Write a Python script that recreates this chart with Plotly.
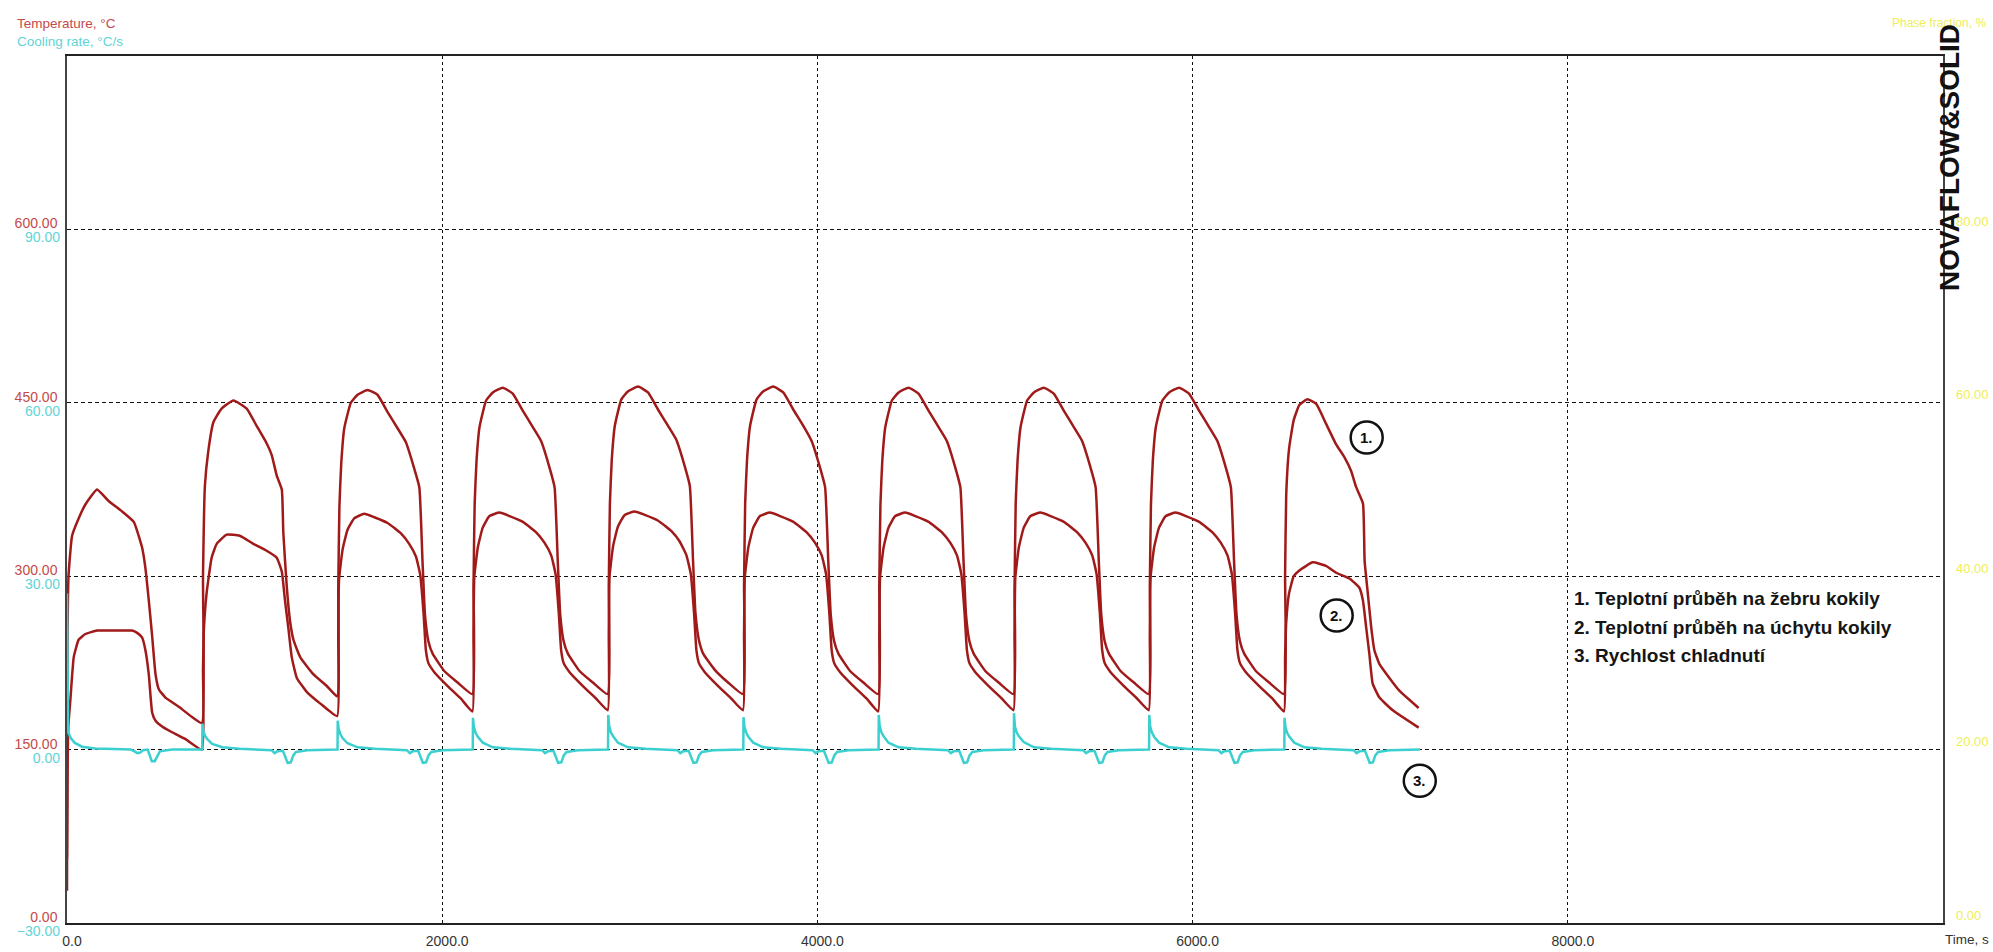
import plotly.graph_objects as go

# ---------------- data ----------------
# Curve 1: temperature on the mould rib (deg C)
rib_time = [0, 3, 8, 27, 62, 98, 160, 222, 294, 356, 400, 418, 436, 454, 472, 490, 525, 596, 668, 719,
            725, 735, 753, 780, 824, 887, 958, 1011, 1064, 1091, 1118, 1145, 1153, 1171, 1189, 1207, 1243, 1314, 1385, 1440,
            1446, 1452, 1462, 1478, 1513, 1549, 1602, 1655, 1709, 1762, 1806, 1851, 1878, 1895, 1908, 1926, 1949, 2011, 2082, 2161,
            2167, 2173, 2183, 2199, 2234, 2270, 2323, 2376, 2430, 2483, 2527, 2572, 2599, 2616, 2629, 2647, 2670, 2732, 2803, 2882,
            2888, 2894, 2904, 2920, 2955, 2991, 3044, 3097, 3151, 3204, 3248, 3293, 3320, 3337, 3350, 3368, 3391, 3453, 3524, 3603,
            3609, 3615, 3625, 3641, 3676, 3712, 3765, 3818, 3872, 3925, 3969, 4014, 4041, 4058, 4071, 4089, 4112, 4174, 4245, 4324,
            4330, 4336, 4346, 4362, 4397, 4433, 4486, 4539, 4593, 4646, 4690, 4735, 4762, 4779, 4792, 4810, 4833, 4895, 4966, 5045,
            5051, 5057, 5067, 5083, 5118, 5154, 5207, 5260, 5314, 5367, 5411, 5456, 5483, 5500, 5513, 5531, 5554, 5616, 5687, 5766,
            5772, 5778, 5788, 5804, 5839, 5875, 5928, 5981, 6035, 6088, 6132, 6177, 6204, 6221, 6234, 6252, 6275, 6337, 6408, 6487,
            6493, 6499, 6514, 6539, 6569, 6612, 6659, 6711, 6765, 6809, 6845, 6872, 6908, 6917, 6934, 6952, 6969, 6996, 7049, 7102, 7205]
rib_temp = [28, 250, 300, 335, 350, 362, 375, 365, 356, 347, 325, 307, 279, 248, 215, 202, 195, 187, 178, 173,
            300, 378, 408, 433, 445, 452, 445, 430, 415, 405, 387, 375, 338, 292, 261, 245, 230, 215, 205, 196,
            290, 360, 398, 428, 450, 457, 461, 457, 442, 428, 416, 393, 377, 313, 267, 244, 233, 218, 208, 198,
            292, 362, 400, 429, 452, 459, 463, 458, 443, 429, 417, 394, 377, 313, 267, 244, 233, 218, 208, 198,
            293, 363, 401, 430, 453, 460, 464, 459, 444, 430, 418, 395, 378, 314, 268, 245, 233, 219, 208, 198,
            292, 363, 401, 430, 453, 460, 464, 459, 444, 430, 417, 394, 377, 313, 267, 244, 233, 218, 208, 198,
            292, 362, 400, 429, 452, 459, 463, 458, 443, 429, 417, 394, 377, 313, 267, 244, 233, 218, 208, 198,
            290, 363, 400, 429, 452, 459, 463, 458, 443, 429, 417, 394, 377, 313, 267, 244, 233, 218, 208, 198,
            292, 362, 400, 429, 452, 459, 463, 458, 443, 429, 417, 394, 377, 313, 267, 244, 233, 218, 208, 198,
            300, 370, 410, 435, 448, 453, 449, 432, 414, 403, 391, 377, 363, 313, 285, 256, 236, 224, 212, 201, 186]

# Curve 2: temperature on the mould holder (deg C)
holder_time = [0, 3, 7, 18, 36, 62, 98, 160, 250, 347, 374, 400, 418, 436, 454, 472, 507, 560, 632, 719,
               725, 730, 744, 771, 798, 851, 921, 993, 1064, 1118, 1145, 1162, 1180, 1198, 1225, 1278, 1349, 1440,
               1446, 1450, 1469, 1495, 1531, 1584, 1638, 1709, 1780, 1824, 1860, 1883, 1901, 1913, 1926, 1958, 2029, 2100, 2161,
               2167, 2171, 2190, 2216, 2252, 2305, 2359, 2430, 2501, 2545, 2581, 2604, 2622, 2634, 2647, 2679, 2750, 2821, 2882,
               2888, 2892, 2911, 2937, 2973, 3026, 3080, 3151, 3222, 3266, 3302, 3325, 3343, 3355, 3368, 3400, 3471, 3542, 3603,
               3609, 3613, 3632, 3658, 3694, 3747, 3801, 3872, 3943, 3987, 4023, 4046, 4064, 4076, 4089, 4121, 4192, 4263, 4324,
               4330, 4334, 4353, 4379, 4415, 4468, 4522, 4593, 4664, 4708, 4744, 4767, 4785, 4797, 4810, 4842, 4913, 4984, 5045,
               5051, 5055, 5074, 5100, 5136, 5189, 5243, 5314, 5385, 5429, 5465, 5488, 5506, 5518, 5531, 5563, 5634, 5705, 5766,
               5772, 5776, 5795, 5821, 5857, 5910, 5964, 6035, 6106, 6150, 6186, 6209, 6227, 6239, 6252, 6284, 6355, 6426, 6487,
               6493, 6499, 6514, 6539, 6569, 6640, 6711, 6765, 6836, 6889, 6908, 6925, 6942, 6960, 6996, 7067, 7205]
holder_temp = [56, 130, 170, 193, 230, 245, 250, 253, 253, 253, 251, 247, 236, 215, 182, 175, 170, 165, 159, 150,
               220, 255, 285, 316, 328, 336, 335, 328, 322, 316, 304, 279, 255, 230, 212, 200, 190, 179,
               250, 297, 323, 340, 350, 354, 351, 346, 337, 328, 317, 301, 267, 236, 225, 217, 205, 194, 183,
               250, 299, 325, 342, 352, 355, 352, 347, 338, 329, 318, 302, 267, 236, 225, 217, 205, 194, 184,
               251, 300, 326, 343, 353, 356, 353, 348, 339, 330, 318, 302, 267, 236, 225, 217, 205, 194, 184,
               250, 299, 325, 342, 352, 355, 352, 347, 338, 329, 318, 302, 267, 236, 225, 217, 205, 194, 183,
               250, 299, 325, 342, 352, 355, 352, 347, 338, 329, 318, 302, 267, 236, 225, 217, 205, 194, 184,
               250, 299, 325, 342, 352, 355, 352, 347, 338, 329, 318, 302, 267, 236, 225, 217, 205, 194, 184,
               250, 299, 325, 342, 352, 355, 352, 347, 338, 329, 318, 302, 267, 236, 225, 217, 205, 194, 183,
               230, 260, 285, 300, 305, 312, 309, 303, 298, 290, 279, 256, 233, 207, 195, 184, 169]

# Curve 3: cooling rate (deg C / s)
rate_time = [0, 2, 6, 20, 40, 80, 150, 250, 340, 360, 375, 390, 405, 430, 442, 452, 468, 480, 495, 560, 719,
             721, 722, 727, 736, 748, 774, 828, 921, 1041, 1091, 1106, 1121, 1151, 1166, 1176, 1193, 1206, 1221, 1281, 1440,
             1442, 1443, 1448, 1457, 1469, 1495, 1549, 1642, 1762, 1812, 1827, 1842, 1872, 1887, 1897, 1914, 1927, 1942, 2002, 2161,
             2163, 2164, 2169, 2178, 2190, 2216, 2270, 2363, 2483, 2533, 2548, 2563, 2593, 2608, 2618, 2635, 2648, 2663, 2723, 2882,
             2884, 2885, 2890, 2899, 2911, 2937, 2991, 3084, 3204, 3254, 3269, 3284, 3314, 3329, 3339, 3356, 3369, 3384, 3444, 3603,
             3605, 3606, 3611, 3620, 3632, 3658, 3712, 3805, 3925, 3975, 3990, 4005, 4035, 4050, 4060, 4077, 4090, 4105, 4165, 4324,
             4326, 4327, 4332, 4341, 4353, 4379, 4433, 4526, 4646, 4696, 4711, 4726, 4756, 4771, 4781, 4798, 4811, 4826, 4886, 5045,
             5047, 5048, 5053, 5062, 5074, 5100, 5154, 5247, 5367, 5417, 5432, 5447, 5477, 5492, 5502, 5519, 5532, 5547, 5607, 5766,
             5768, 5769, 5774, 5783, 5795, 5821, 5875, 5968, 6088, 6138, 6153, 6168, 6198, 6213, 6223, 6240, 6253, 6268, 6328, 6487,
             6489, 6490, 6495, 6504, 6516, 6542, 6596, 6689, 6809, 6859, 6874, 6889, 6919, 6934, 6944, 6961, 6974, 6989, 7049, 7212]
rate_value = [27, 3.5, 3.0, 2.0, 1.2, 0.5, 0.2, 0.1, 0, -0.3, -0.6, -0.5, -0.1, 0, -1.2, -2.0, -2.0, -1.2, -0.3, 0, 0,
              0, 4.5, 3.2, 2.4, 1.8, 1.0, 0.4, 0.15, 0.05, -0.1, -0.6, -0.3, -0.2, -1.4, -2.3, -2.2, -1.0, -0.4, -0.1, 0,
              0, 5.0, 3.6, 2.7, 2.0, 1.1, 0.4, 0.15, 0.05, -0.1, -0.6, -0.3, -0.2, -1.4, -2.3, -2.2, -1.0, -0.4, -0.1, 0,
              0, 5.5, 3.9, 2.9, 2.2, 1.2, 0.4, 0.15, 0.05, -0.1, -0.6, -0.3, -0.2, -1.4, -2.3, -2.2, -1.0, -0.4, -0.1, 0,
              0, 6.0, 4.1, 3.0, 2.3, 1.2, 0.4, 0.15, 0.05, -0.1, -0.6, -0.3, -0.2, -1.4, -2.3, -2.2, -1.0, -0.4, -0.1, 0,
              0, 5.6, 4.0, 3.0, 2.2, 1.2, 0.4, 0.15, 0.05, -0.1, -0.6, -0.3, -0.2, -1.4, -2.3, -2.2, -1.0, -0.4, -0.1, 0,
              0, 6.0, 4.1, 3.0, 2.3, 1.2, 0.4, 0.15, 0.05, -0.1, -0.6, -0.3, -0.2, -1.4, -2.3, -2.2, -1.0, -0.4, -0.1, 0,
              0, 6.3, 4.0, 3.0, 2.3, 1.3, 0.4, 0.15, 0.05, -0.1, -0.6, -0.3, -0.2, -1.4, -2.3, -2.2, -1.0, -0.4, -0.1, 0,
              0, 6.0, 4.0, 3.0, 2.2, 1.2, 0.4, 0.15, 0.05, -0.1, -0.6, -0.3, -0.2, -1.4, -2.3, -2.2, -1.0, -0.4, -0.1, 0,
              0, 5.5, 3.9, 2.9, 2.2, 1.2, 0.4, 0.15, 0.05, -0.1, -0.6, -0.3, -0.2, -1.4, -2.3, -2.2, -1.0, -0.4, -0.1, 0]

time_ticks = [0, 2000, 4000, 6000, 8000]
temp_ticks = [0, 150, 300, 450, 600]
rate_ticks = [-30, 0, 30, 60, 90]
phase_ticks = [0, 20, 40, 60, 80]

legend_lines = ["1. Teplotní průběh na žebru kokily",
                "2. Teplotní průběh na úchytu kokily",
                "3. Rychlost chladnutí"]
marker_labels = ["1.", "2.", "3."]

# ---------------- styling ----------------
RED = "#a01a1a"
RED_TXT = "#c44a4a"
CYAN = "#3ccfd0"
CYAN_TXT = "#62d4d6"
YEL_TXT = "#eeee55"
FONT = "Liberation Sans"

fig = go.Figure()
fig.add_trace(go.Scatter(x=rib_time, y=rib_temp, mode="lines",
                         line=dict(color=RED, width=2.5, shape="spline", smoothing=0.4),
                         name=legend_lines[0], yaxis="y"))
fig.add_trace(go.Scatter(x=holder_time, y=holder_temp, mode="lines",
                         line=dict(color=RED, width=2.5, shape="spline", smoothing=0.4),
                         name=legend_lines[1], yaxis="y"))
fig.add_trace(go.Scatter(x=rate_time, y=rate_value, mode="lines", line=dict(color=CYAN, width=2.5),
                         name=legend_lines[2], yaxis="y2"))
# phase-fraction axis has no series, but needs a trace to be drawn
fig.add_trace(go.Scatter(x=[None], y=[None], mode="lines", yaxis="y3", showlegend=False, hoverinfo="skip"))

W, H = 1993, 952
L, R, T, B = 67, 50, 56, 29
pw, ph = W - L - R, H - T - B


def px(xp):
    return (xp - L) / pw


def py(yp):
    return (H - B - yp) / ph


fig.update_layout(
    width=W, height=H, autosize=False,
    margin=dict(l=L, r=R, t=T, b=B, pad=0),
    paper_bgcolor="white", plot_bgcolor="white",
    showlegend=False,
    font=dict(family=FONT, size=12, color="#333"),
    xaxis=dict(range=[0, 10000], tickvals=time_ticks, tickformat=".1f", automargin=False,
               showgrid=True, gridcolor="#111", gridwidth=1, griddash="3px,3px",
               showline=True, linecolor="#222", linewidth=1.5, mirror=True,
               zeroline=False, ticks="", ticklabelstandoff=4, ticklabelshift=5,
               tickfont=dict(family=FONT, size=14, color="#333")),
    yaxis=dict(range=[0, 750], tickvals=temp_ticks, tickformat=".2f", automargin=False,
               showgrid=True, gridcolor="#111", gridwidth=1, griddash="4px,3px",
               showline=True, linecolor="#444", linewidth=1.5, mirror=True,
               zeroline=False, ticks="", ticklabelshift=-6, ticklabelstandoff=5,
               tickfont=dict(family=FONT, size=14, color=RED_TXT)),
    yaxis2=dict(range=[-30, 120], tickvals=rate_ticks, tickformat=".2f", automargin=False,
                overlaying="y", side="left", showgrid=False, zeroline=False,
                showline=False, ticks="", ticklabelshift=8, ticklabelstandoff=6,
                tickfont=dict(family=FONT, size=14, color=CYAN_TXT)),
    yaxis3=dict(range=[0, 100], tickvals=phase_ticks, tickformat=".2f", automargin=False,
                overlaying="y", side="right", showgrid=False, zeroline=False,
                showline=False, ticks="", ticklabelshift=-8, ticklabelstandoff=12,
                tickfont=dict(family=FONT, size=13, color=YEL_TXT)),
)

ann = []
ann.append(dict(text="Temperature, °C", x=px(15), y=py(23), xref="paper", yref="paper",
                xanchor="left", yanchor="middle", showarrow=False,
                font=dict(family=FONT, size=13.5, color=RED_TXT)))
ann.append(dict(text="Cooling rate, °C/s", x=px(15), y=py(42), xref="paper", yref="paper",
                xanchor="left", yanchor="middle", showarrow=False,
                font=dict(family=FONT, size=13.5, color=CYAN_TXT)))
ann.append(dict(text="Phase fraction, %", x=px(1988), y=py(23), xref="paper", yref="paper",
                xanchor="right", yanchor="middle", showarrow=False,
                font=dict(family=FONT, size=12, color=YEL_TXT)))
ann.append(dict(text="Time, s", x=px(1991), y=py(940), xref="paper", yref="paper",
                xanchor="right", yanchor="middle", showarrow=False,
                font=dict(family=FONT, size=13.5, color="#333")))
ann.append(dict(text="<b>NOVAFLOW&amp;SOLID</b>", x=px(1949), y=py(158), xref="paper", yref="paper",
                xanchor="center", yanchor="middle", textangle=-90, showarrow=False,
                font=dict(family=FONT, size=28, color="#111")))
for i, (line, ypix) in enumerate(zip(legend_lines, [598, 627, 655])):
    ann.append(dict(text="<b>" + line + "</b>", x=px(1572), y=py(ypix), xref="paper", yref="paper",
                    xanchor="left", yanchor="middle", showarrow=False,
                    font=dict(family=FONT, size=19, color="#151515")))

# circled markers next to the curves (data coordinates)
marker_pos = [(6928, 420), (6768, 266), (7211, 123)]
shapes = []
for lab, (mx, my) in zip(marker_labels, marker_pos):
    shapes.append(dict(type="circle", xref="x", yref="y", xsizemode="pixel", ysizemode="pixel",
                       xanchor=mx, yanchor=my, x0=-16, x1=16, y0=-16, y1=16,
                       line=dict(color="#111", width=2.5), fillcolor="rgba(0,0,0,0)"))
    ann.append(dict(text="<b>" + lab + "</b>", x=mx, y=my, xref="x", yref="y",
                    xanchor="center", yanchor="middle", showarrow=False,
                    font=dict(family=FONT, size=15, color="#111")))

fig.update_layout(annotations=ann, shapes=shapes)

fig.write_html("out.html", config={"displayModeBar": False},
               post_script="document.body.style.margin='0';")
